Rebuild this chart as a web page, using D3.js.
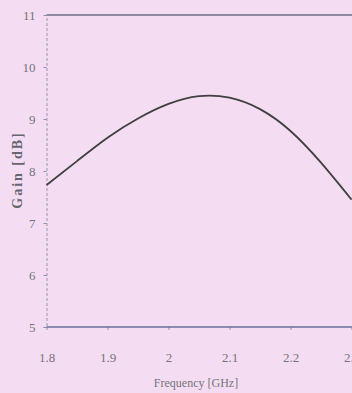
<!DOCTYPE html>
<html>
<head>
<meta charset="utf-8">
<script src="https://cdn.jsdelivr.net/npm/d3@7"></script>
<style>
  html, body { margin: 0; padding: 0; background: #f4ddf2; }
  svg { display: block; }
</style>
</head>
<body>
<svg id="chart" width="352" height="393"></svg>
<script>
// data
const freq = [1.80, 1.85, 1.90, 1.95, 2.00, 2.05, 2.10, 2.15, 2.20, 2.25, 2.30];
const gain = [7.73, 8.19, 8.64, 9.01, 9.29, 9.44, 9.41, 9.19, 8.77, 8.16, 7.45];
const xTicks = [1.8, 1.9, 2.0, 2.1, 2.2, 2.3];
const yTicks = [5, 6, 7, 8, 9, 10, 11];

var m = [15, 0, 66, 46.5]; // top, right, bottom, left
var svg = d3.select("#chart"),
  width = +svg.attr("width"),
  height = +svg.attr("height");

var x = d3.scaleLinear().domain([1.8, 2.3]).range([m[3], m[3] + 305]);
var y = d3.scaleLinear().domain([5, 11]).range([height - m[2], m[0]]);

svg.append("rect")
  .attr("width", width)
  .attr("height", height)
  .style("fill", "#f4ddf2");

// top frame line
svg.append("line")
  .attr("x1", x(1.8)).attr("x2", width)
  .attr("y1", y(11)).attr("y2", y(11))
  .style("stroke", "#6f6c86")
  .style("stroke-width", 1.6);

// x axis
var xAxis = svg.append("g")
  .attr("transform", "translate(0," + y(5) + ")")
  .call(d3.axisBottom(x).tickValues(xTicks).tickSize(3).tickPadding(23)
    .tickFormat(d3.format("")));
xAxis.select(".domain").remove();
xAxis.append("line")
  .attr("x1", x(1.8)).attr("x2", width)
  .style("stroke", "#6c6d9c")
  .style("stroke-width", 1.6);

// y axis
var yAxis = svg.append("g")
  .attr("transform", "translate(" + x(1.8) + ",0)")
  .call(d3.axisLeft(y).tickValues(yTicks).tickSize(3).tickPadding(8)
    .tickFormat(d3.format("d")));
yAxis.select(".domain")
  .style("stroke", "#9a95a8")
  .style("stroke-dasharray", "3,2");

svg.selectAll(".tick line")
  .style("stroke", "#8a8fb0");
svg.selectAll(".tick text")
  .style("font-family", "Liberation Serif, serif")
  .style("font-size", "13px")
  .style("fill", "#74747c");

// gain curve
var line = d3.line()
  .x((d, i) => x(freq[i]))
  .y(d => y(d))
  .curve(d3.curveNatural);

svg.append("path")
  .datum(gain)
  .attr("d", line)
  .style("fill", "none")
  .style("stroke", "#3f4040")
  .style("stroke-width", 1.8);

// axis titles
svg.append("text")
  .attr("transform", "translate(22,170) rotate(-90)")
  .style("text-anchor", "middle")
  .style("font-family", "Liberation Serif, serif")
  .style("font-size", "14px")
  .style("font-weight", "bold")
  .style("letter-spacing", "2px")
  .style("fill", "#66666e")
  .text("Gain [dB]");

svg.append("text")
  .attr("x", 196)
  .attr("y", 387)
  .style("text-anchor", "middle")
  .style("font-family", "Liberation Serif, serif")
  .style("font-size", "12px")
  .style("fill", "#74747c")
  .text("Frequency [GHz]");
</script>
</body>
</html>
